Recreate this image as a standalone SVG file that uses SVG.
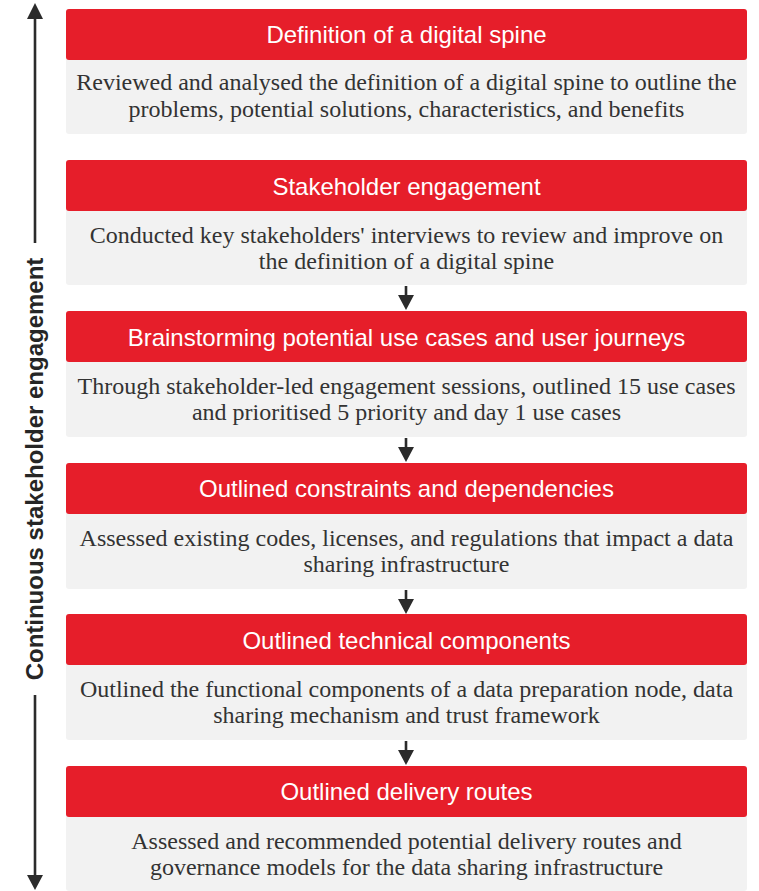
<svg xmlns="http://www.w3.org/2000/svg" width="759" height="891" viewBox="0 0 759 891">
<defs>
<style>
.hdr{fill:#E61E2A}
.body{fill:#F2F2F2}
.ht{font-family:"Liberation Sans",Arial,sans-serif;font-size:24px;fill:#FFFFFF;text-anchor:middle}
.bt{font-family:"Liberation Serif","Times New Roman",serif;font-size:24px;fill:#333333;text-anchor:middle}
.side{font-family:"Liberation Sans",Arial,sans-serif;font-size:24px;font-weight:bold;fill:#262626;text-anchor:middle}
.ln{stroke:#2B2B2B;stroke-width:2.6;fill:none}
.ah{fill:#2B2B2B}
</style>
</defs>
<rect width="759" height="891" fill="#FFFFFF"/>
<g id="side-axis">
<line class="ln" x1="35" y1="18" x2="35" y2="243"/>
<line class="ln" x1="35" y1="695" x2="35" y2="876"/>
<polygon class="ah" points="35,3 27,19 43,19"/>
<polygon class="ah" points="35,890 27,875 43,875"/>
<text class="side" transform="translate(43,469) rotate(-90)">Continuous stakeholder engagement</text>
</g>
<g id="node1">
<rect class="body" x="66" y="40" width="681" height="94" rx="3"/>
<rect class="hdr" x="66" y="9" width="681" height="51" rx="3"/>
<text class="ht" x="406.5" y="43">Definition of a digital spine</text>
<text class="bt" x="406.5" y="90">Reviewed and analysed the definition of a digital spine to outline the</text>
<text class="bt" x="406.5" y="117">problems, potential solutions, characteristics, and benefits</text>
</g>
<g id="node2">
<rect class="body" x="66" y="191" width="681" height="94" rx="3"/>
<rect class="hdr" x="66" y="160" width="681" height="51" rx="3"/>
<text class="ht" x="406.5" y="195">Stakeholder engagement</text>
<text class="bt" x="406.5" y="243">Conducted key stakeholders' interviews to review and improve on</text>
<text class="bt" x="406.5" y="269">the definition of a digital spine</text>
</g>
<g id="node3">
<rect class="body" x="66" y="342" width="681" height="95" rx="3"/>
<rect class="hdr" x="66" y="311" width="681" height="51" rx="3"/>
<text class="ht" x="406.5" y="346">Brainstorming potential use cases and user journeys</text>
<text class="bt" x="406.5" y="394">Through stakeholder-led engagement sessions, outlined 15 use cases</text>
<text class="bt" x="406.5" y="420">and prioritised 5 priority and day 1 use cases</text>
</g>
<g id="node4">
<rect class="body" x="66" y="494" width="681" height="95" rx="3"/>
<rect class="hdr" x="66" y="463" width="681" height="51" rx="3"/>
<text class="ht" x="406.5" y="497">Outlined constraints and dependencies</text>
<text class="bt" x="406.5" y="546">Assessed existing codes, licenses, and regulations that impact a data</text>
<text class="bt" x="406.5" y="572">sharing infrastructure</text>
</g>
<g id="node5">
<rect class="body" x="66" y="645" width="681" height="95" rx="3"/>
<rect class="hdr" x="66" y="614" width="681" height="51" rx="3"/>
<text class="ht" x="406.5" y="649">Outlined technical components</text>
<text class="bt" x="406.5" y="697">Outlined the functional components of a data preparation node, data</text>
<text class="bt" x="406.5" y="723">sharing mechanism and trust framework</text>
</g>
<g id="node6">
<rect class="body" x="66" y="797" width="681" height="94" rx="3"/>
<rect class="hdr" x="66" y="766" width="681" height="51" rx="3"/>
<text class="ht" x="406.5" y="800">Outlined delivery routes</text>
<text class="bt" x="406.5" y="849">Assessed and recommended potential delivery routes and</text>
<text class="bt" x="406.5" y="875">governance models for the data sharing infrastructure</text>
</g>
<g id="connectors">
<line class="ln" x1="406" y1="286" x2="406" y2="297"/>
<polygon class="ah" points="398,295 414,295 406,310"/>
<line class="ln" x1="406" y1="438" x2="406" y2="449"/>
<polygon class="ah" points="398,447 414,447 406,462"/>
<line class="ln" x1="406" y1="590" x2="406" y2="601"/>
<polygon class="ah" points="398,599 414,599 406,614"/>
<line class="ln" x1="406" y1="741" x2="406" y2="752"/>
<polygon class="ah" points="398,750 414,750 406,765"/>
</g>
</svg>
